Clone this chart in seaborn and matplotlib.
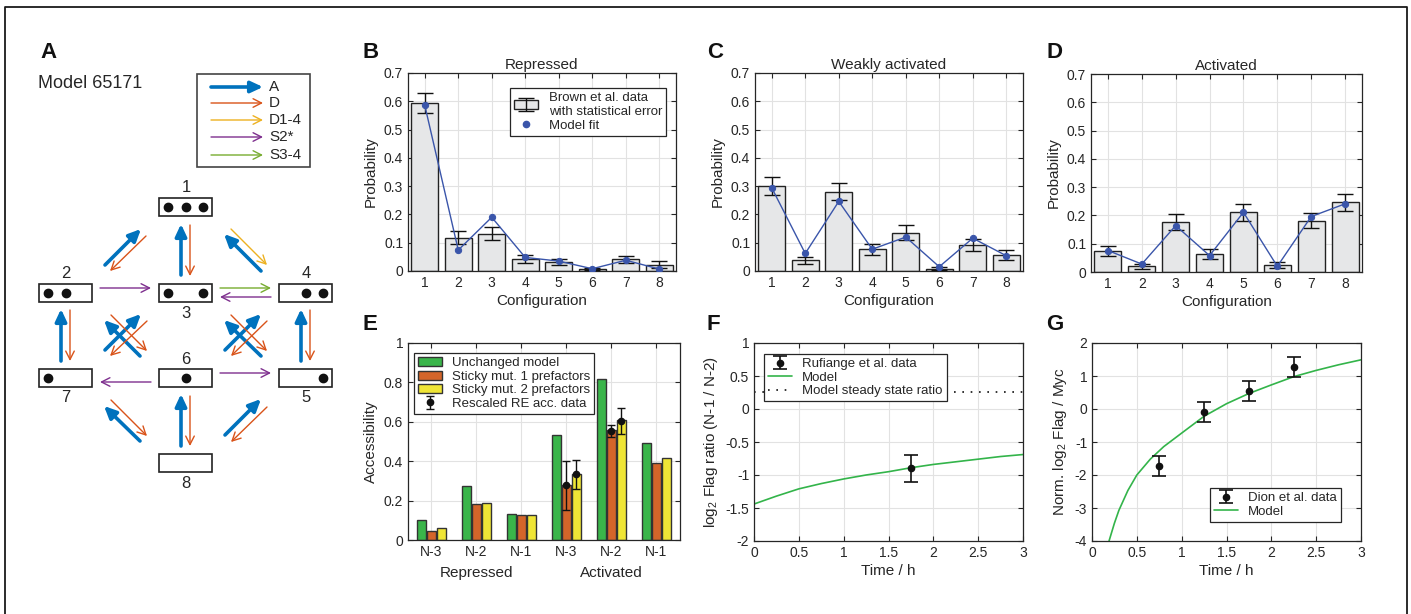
import numpy as np
import pandas as pd
import matplotlib
matplotlib.use("Agg")
import matplotlib.pyplot as plt
import seaborn as sns
from matplotlib.patches import Rectangle, Patch

# ---------------- data ----------------
configs = ["1", "2", "3", "4", "5", "6", "7", "8"]

rep_data = [0.594, 0.117, 0.132, 0.041, 0.032, 0.007, 0.041, 0.022]
rep_err = [0.035, 0.023, 0.024, 0.014, 0.012, 0.004, 0.013, 0.012]
rep_model = [0.586, 0.074, 0.190, 0.048, 0.035, 0.008, 0.038, 0.007]

weak_data = [0.300, 0.038, 0.280, 0.077, 0.136, 0.008, 0.092, 0.057]
weak_err = [0.033, 0.013, 0.030, 0.019, 0.025, 0.006, 0.020, 0.018]
weak_model = [0.294, 0.062, 0.246, 0.077, 0.120, 0.015, 0.116, 0.054]

act_data = [0.074, 0.020, 0.177, 0.064, 0.211, 0.025, 0.182, 0.246]
act_err = [0.019, 0.009, 0.027, 0.017, 0.029, 0.010, 0.028, 0.030]
act_model = [0.076, 0.028, 0.164, 0.058, 0.211, 0.020, 0.196, 0.241]

nuc_keys = ["rN-3", "rN-2", "rN-1", "aN-3", "aN-2", "aN-1"]
nuc_labels = ["N-3", "N-2", "N-1", "N-3", "N-2", "N-1"]
state_labels = ["Repressed", "Activated"]
variants = ["Unchanged model", "Sticky mut. 1 prefactors", "Sticky mut. 2 prefactors"]
acc_unchanged = [0.102, 0.276, 0.133, 0.534, 0.817, 0.492]
acc_sticky1 = [0.046, 0.182, 0.125, 0.280, 0.556, 0.390]
acc_sticky2 = [0.061, 0.186, 0.125, 0.336, 0.607, 0.415]
nan = np.nan
re_s1 = [nan, nan, nan, 0.278, 0.555, nan]
re_s1_err = [nan, nan, nan, 0.125, 0.031, nan]
re_s2 = [nan, nan, nan, 0.333, 0.605, nan]
re_s2_err = [nan, nan, nan, 0.072, 0.065, nan]

f_time = [0, 0.25, 0.5, 0.75, 1.0, 1.25, 1.5, 1.75, 2.0, 2.25, 2.5, 2.75, 3.0]
f_model = [-1.44, -1.32, -1.21, -1.13, -1.06, -1.00, -0.95, -0.89, -0.84, -0.80, -0.76, -0.72, -0.69]
f_steady = 0.265
f_data_t = [1.75]
f_data = [-0.90]
f_data_err = [0.205]

g_time = [0.19, 0.25, 0.3, 0.4, 0.5, 0.65, 0.8, 1.0, 1.25, 1.5, 1.75, 2.0, 2.25, 2.5, 2.75, 3.0]
g_model = [-4.0, -3.46, -3.07, -2.47, -2.0, -1.52, -1.14, -0.73, -0.22, 0.16, 0.47, 0.73, 0.98, 1.17, 1.34, 1.49]
g_data_t = [0.75, 1.25, 1.75, 2.25]
g_data = [-1.73, -0.09, 0.55, 1.27]
g_data_err = [0.30, 0.30, 0.30, 0.30]

# ---------------- style ----------------
W, H = 1411, 614
dark = "#262626"
sns.set_theme(style="ticks")
plt.rcParams.update({
    "axes.grid": True, "grid.color": "#e2e2e2", "grid.linewidth": 0.8,
    "axes.axisbelow": True,
    "xtick.direction": "in", "ytick.direction": "in",
    "xtick.top": True, "ytick.right": True,
    "xtick.major.size": 3.5, "ytick.major.size": 3.5,
    "xtick.major.width": 0.8, "ytick.major.width": 0.8,
    "xtick.major.pad": 3.5, "ytick.major.pad": 3.5,
    "axes.edgecolor": dark, "axes.linewidth": 0.9,
    "xtick.color": dark, "ytick.color": dark,
    "text.color": dark, "axes.labelcolor": dark,
    "xtick.labelsize": 10, "ytick.labelsize": 10,
    "axes.labelsize": 11, "axes.titlesize": 11,
    "legend.fontsize": 9.5, "legend.frameon": True, "legend.fancybox": False,
    "legend.edgecolor": dark, "legend.framealpha": 1,
    "axes.unicode_minus": False,
    "mathtext.fontset": "custom", "mathtext.rm": "Liberation Sans",
    "mathtext.it": "Liberation Sans:italic", "mathtext.bf": "Liberation Sans:bold",
})
plt.rcParams["font.family"] = ["Liberation Sans", "DejaVu Sans"]

bar_grey = "#e6e7e8"
model_blue = "#3a55aa"
e_colors = ["#3ab54a", "#d4652a", "#efe536"]
line_green = "#33b44a"
rate_colors = {"A": "#0072BD", "D": "#D95319", "D1-4": "#EDB120",
               "S2*": "#7E2F8E", "S3-4": "#77AC30"}

fig = plt.figure(figsize=(W / 100, H / 100), dpi=100)


def px_axes(l, t, r, b):
    return fig.add_axes([l / W, 1 - b / H, (r - l) / W, (b - t) / H])


bg = px_axes(0, 0, W, H)
bg.set_xlim(0, W)
bg.set_ylim(H, 0)
bg.axis("off")

# outer frame
bg.plot([5, 5, 1407, 1407], [640, 7, 7, 640], color="k", lw=1.3, clip_on=False)

# panel letters
for letter, x, y in [("A", 40, 52), ("B", 362, 52), ("C", 707, 52), ("D", 1046, 52),
                     ("E", 362, 325), ("F", 707, 325), ("G", 1046, 325)]:
    bg.text(x, y, letter, fontsize=16, fontweight="bold", color="#111111",
            ha="left", va="center")

# ---------------- panel A: scheme ----------------
bg.text(38, 83, "Model 65171", fontsize=13, ha="left", va="center")


def arrow(x0, y0, x1, y1, kind):
    if kind == "A":
        props = dict(arrowstyle="-|>,head_length=0.6,head_width=0.28",
                     color=rate_colors[kind], lw=2.6, mutation_scale=12,
                     shrinkA=0, shrinkB=0)
    else:
        props = dict(arrowstyle="->,head_length=0.55,head_width=0.28",
                     color=rate_colors[kind], lw=1.0, mutation_scale=11,
                     shrinkA=0, shrinkB=0)
    bg.annotate("", xy=(x1, y1), xytext=(x0, y0), arrowprops=props)


# legend box of the scheme
bg.add_patch(Rectangle((197, 74), 113, 93, fill=False, ec="#444444", lw=1.2))
for kind, y in zip(["A", "D", "D1-4", "S2*", "S3-4"], [87, 103, 120, 137, 155]):
    arrow(211, y, 263, y, kind)
    bg.text(269, y, kind, fontsize=11, ha="left", va="center")

node_boxes = {1: (159, 198), 2: (39, 284), 3: (159, 284), 4: (279, 284),
              7: (39, 369), 6: (159, 369), 5: (279, 369), 8: (159, 454)}
node_dots = {1: [1, 1, 1], 2: [1, 1, 0], 3: [1, 0, 1], 4: [0, 1, 1],
             5: [0, 0, 1], 6: [0, 1, 0], 7: [1, 0, 0], 8: [0, 0, 0]}
label_above = {1: True, 2: True, 4: True, 6: True, 3: False, 7: False, 5: False, 8: False}
for n, (bx, by) in node_boxes.items():
    bg.add_patch(Rectangle((bx, by), 53, 18, fill=False, ec="#222222", lw=1.2))
    for slot, occ in zip([9, 26.5, 44], node_dots[n]):
        if occ:
            bg.plot(bx + slot, by + 9, "o", color="#111111", ms=6)
    ly = by - 10 if label_above[n] else by + 29
    bg.text(bx + 27, ly, str(n), fontsize=12, ha="center", va="center")

diagram_arrows = [
    ("A", 105, 265, 141, 229), ("D", 146, 236, 110, 271),
    ("A", 181, 275, 181, 224), ("D", 190, 225, 190, 276),
    ("A", 261, 271, 224, 234), ("D1-4", 231, 229, 267, 265),
    ("S2*", 100, 288, 151, 288),
    ("S3-4", 220, 288, 271, 288), ("S2*", 271, 297, 220, 297),
    ("A", 61, 361, 61, 309), ("D", 70, 310, 70, 361),
    ("A", 105, 350, 141, 314), ("A", 140, 356, 104, 320),
    ("D", 111, 315, 147, 351), ("D", 147, 321, 110, 356),
    ("A", 225, 350, 261, 314), ("A", 261, 356, 224, 320),
    ("D", 231, 315, 267, 351), ("D", 267, 321, 231, 356),
    ("A", 301, 361, 301, 309), ("D", 310, 310, 310, 361),
    ("S2*", 151, 382, 100, 382), ("S2*", 220, 373, 271, 373),
    ("A", 140, 441, 104, 406), ("D", 111, 400, 147, 436),
    ("A", 181, 446, 181, 394), ("D", 190, 396, 190, 446),
    ("A", 225, 435, 261, 399), ("D", 267, 407, 231, 442),
]
for kind, x0, y0, x1, y1 in diagram_arrows:
    arrow(x0, y0, x1, y1, kind)


# ---------------- panels B-D ----------------
def config_panel(ax, data, err, model, title, with_legend=False):
    df = pd.DataFrame({"Configuration": configs, "Probability": data})
    sns.barplot(data=df, x="Configuration", y="Probability", ax=ax, color=bar_grey,
                edgecolor="#222222", linewidth=1.0, width=0.8, saturation=1)
    eb = ax.errorbar(np.arange(len(configs)), data, yerr=err, fmt="none", ecolor="#111111",
                     elinewidth=1.0, capsize=5.5, capthick=1.0, zorder=3)
    sns.pointplot(x=configs, y=model, ax=ax, color=model_blue, markers="o",
                  markersize=4.5, linewidth=1.0, errorbar=None, zorder=4)
    ax.set_xlim(-0.5, 7.5)
    ax.set_ylim(0, 0.7)
    ax.set_yticks(np.arange(0, 0.71, 0.1))
    ax.set_yticklabels(["0", "0.1", "0.2", "0.3", "0.4", "0.5", "0.6", "0.7"])
    ax.grid(True, axis="both")
    for s in ax.spines.values():
        s.set_visible(True)
    ax.set_title(title, pad=3)
    ax.set_xlabel("Configuration", labelpad=3)
    ax.set_ylabel("Probability", labelpad=4)
    if with_legend:
        bar_h = Patch(facecolor=bar_grey, edgecolor="#222222", lw=1.0)
        dot_h = plt.Line2D([], [], ls="none", marker="o", ms=4.5, color=model_blue)
        leg = ax.legend([(bar_h, eb), dot_h],
                        ["Brown et al. data\nwith statistical error", "Model fit"],
                        loc="upper right", bbox_to_anchor=((666 - 408) / 268, (271 - 88) / 198),
                        borderaxespad=0, handlelength=1.8, labelspacing=0.15,
                        borderpad=0.3, handletextpad=0.8)
        leg.get_frame().set_linewidth(0.9)


axB = px_axes(408, 73, 676, 271)
config_panel(axB, rep_data, rep_err, rep_model, "Repressed", with_legend=True)
axC = px_axes(755, 73, 1023, 271)
config_panel(axC, weak_data, weak_err, weak_model, "Weakly activated")
axD = px_axes(1091, 74, 1362, 272)
config_panel(axD, act_data, act_err, act_model, "Activated")

# ---------------- panel E ----------------
axE = px_axes(408, 343, 680, 540)
e_df = pd.DataFrame({
    "pos": nuc_keys * 3,
    "Accessibility": acc_unchanged + acc_sticky1 + acc_sticky2,
    "Variant": sum([[v] * len(nuc_keys) for v in variants], []),
})
sns.barplot(data=e_df, x="pos", y="Accessibility", hue="Variant", hue_order=variants,
            palette=e_colors, width=0.66, gap=0.1, edgecolor="#333333", linewidth=1.0,
            saturation=1, legend=False, ax=axE)
eb_handle = None
for cont, vals, errs in [(axE.containers[1], re_s1, re_s1_err),
                         (axE.containers[2], re_s2, re_s2_err)]:
    for patch, v, e in zip(cont.patches, vals, errs):
        if np.isnan(v):
            continue
        xc = patch.get_x() + patch.get_width() / 2
        eb = axE.errorbar([xc], [v], yerr=[e], fmt="o", color="#111111", ms=4.5,
                          elinewidth=1.0, capsize=3, capthick=1.0, zorder=4)
        if eb_handle is None:
            eb_handle = eb
axE.set_xlim(-0.52, 5.53)
axE.set_ylim(0, 1)
axE.set_yticks(np.arange(0, 1.01, 0.2))
axE.set_yticklabels(["0", "0.2", "0.4", "0.6", "0.8", "1"])
axE.set_xticks(range(len(nuc_keys)))
axE.set_xticklabels(nuc_labels)
axE.grid(True, axis="both")
for s in axE.spines.values():
    s.set_visible(True)
axE.set_xlabel("")
axE.set_ylabel("Accessibility", labelpad=4)
for pos, lab in zip([1, 4], state_labels):
    axE.text(pos, -0.168, lab, transform=axE.get_xaxis_transform(), fontsize=11,
             ha="center", va="center")
e_handles = [Patch(facecolor=c, edgecolor="#333333", lw=1.0) for c in e_colors] + [eb_handle]
leg = axE.legend(e_handles, variants + ["Rescaled RE acc. data"], loc="upper left",
                 bbox_to_anchor=((414 - 408) / 272, (540 - 353) / 197), borderaxespad=0,
                 handlelength=1.8, labelspacing=0.1, borderpad=0.3, handletextpad=0.8)
leg.get_frame().set_linewidth(0.9)

# ---------------- panel F ----------------
axF = px_axes(754, 343, 1023, 541)
ebF = axF.errorbar(f_data_t, f_data, yerr=f_data_err, fmt="o", color="#111111", ms=4.5,
                   elinewidth=1.2, capsize=5, capthick=1.2, zorder=4)
sns.lineplot(x=f_time, y=f_model, ax=axF, color=line_green, linewidth=1.2)
f_line = axF.get_lines()[-1]
steady = axF.axhline(f_steady, color="#111111", lw=1.2, ls=(0, (1, 4)))
axF.set_xlim(0, 3)
axF.set_ylim(-2, 1)
axF.set_xticks(np.arange(0, 3.01, 0.5))
axF.set_xticklabels(["0", "0.5", "1", "1.5", "2", "2.5", "3"])
axF.set_yticks(np.arange(-2, 1.01, 0.5))
axF.set_yticklabels(["-2", "-1.5", "-1", "-0.5", "0", "0.5", "1"])
axF.grid(True, axis="both")
axF.set_xlabel("Time / h", labelpad=3)
axF.set_ylabel("log$_2$ Flag ratio (N-1 / N-2)", labelpad=4)
leg = axF.legend([ebF, f_line, steady],
                 ["Rufiange et al. data", "Model", "Model steady state ratio"],
                 loc="upper left", bbox_to_anchor=((764 - 754) / 269, (541 - 354) / 198),
                 borderaxespad=0, handlelength=1.8, labelspacing=0.1, borderpad=0.3,
                 handletextpad=0.8)
leg.get_frame().set_linewidth(0.9)

# ---------------- panel G ----------------
axG = px_axes(1092, 343, 1361, 541)
ebG = axG.errorbar(g_data_t, g_data, yerr=g_data_err, fmt="o", color="#111111", ms=4.5,
                   elinewidth=1.2, capsize=5, capthick=1.2, zorder=4)
sns.lineplot(x=g_time, y=g_model, ax=axG, color=line_green, linewidth=1.2)
g_line = axG.get_lines()[-1]
axG.set_xlim(0, 3)
axG.set_ylim(-4, 2)
axG.set_xticks(np.arange(0, 3.01, 0.5))
axG.set_xticklabels(["0", "0.5", "1", "1.5", "2", "2.5", "3"])
axG.set_yticks(np.arange(-4, 2.01, 1))
axG.set_yticklabels(["-4", "-3", "-2", "-1", "0", "1", "2"])
axG.grid(True, axis="both")
axG.set_xlabel("Time / h", labelpad=3)
axG.set_ylabel("Norm. log$_2$ Flag / Myc", labelpad=4)
leg = axG.legend([ebG, g_line], ["Dion et al. data", "Model"], loc="lower right",
                 bbox_to_anchor=((1341 - 1092) / 269, (541 - 522) / 198), borderaxespad=0,
                 handlelength=1.8, labelspacing=0.1, borderpad=0.3, handletextpad=0.8)
leg.get_frame().set_linewidth(0.9)

fig.savefig("out.png", dpi=100)
